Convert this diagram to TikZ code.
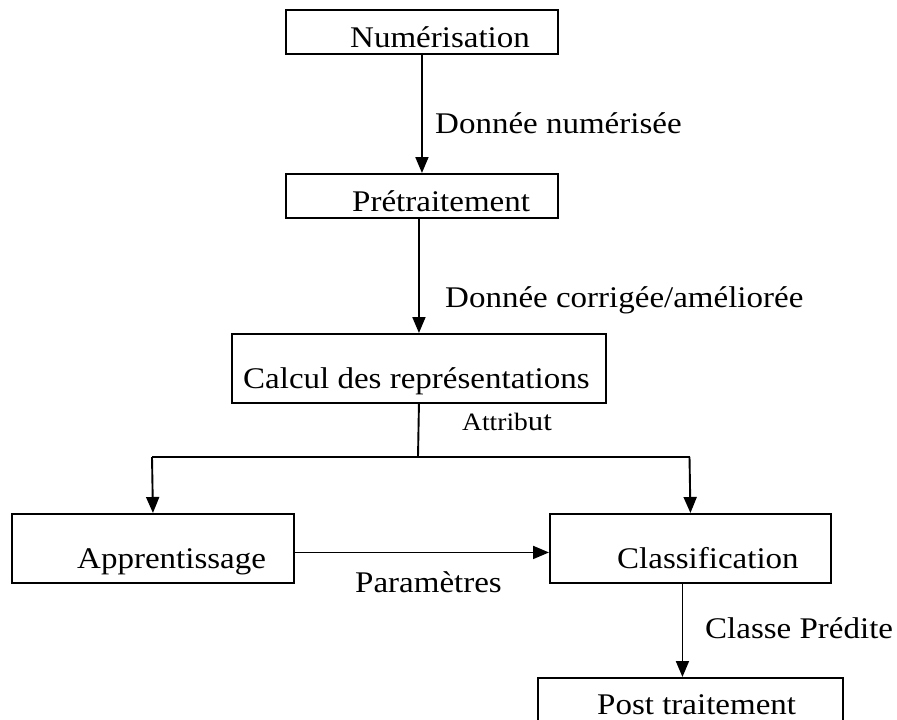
\documentclass[tikz,border=0pt]{standalone}
\usepackage{fontspec}
\setmainfont{Liberation Serif}[FakeStretch=1.1]
\usetikzlibrary{arrows.meta}
\begin{document}
\begin{tikzpicture}[x=1pt,y=-1pt,
  box/.style={draw,line width=1.9pt,inner sep=0pt,anchor=north west},
  lbl/.style={inner sep=0pt,anchor=base west,font=\fontsize{30}{36}\selectfont},
  conn/.style={line width=1.9pt},
  arr/.style={conn,-{Triangle[length=16pt,width=13pt]}}]
\clip (0,0) rectangle (897,720);
% boxes
\node[box,minimum width=272pt,minimum height=44pt] (num) at (285,9) {};
\node[box,minimum width=272pt,minimum height=44pt] (pre) at (285,173) {};
\node[box,minimum width=374pt,minimum height=69pt] (calc) at (231,333) {};
\node[box,minimum width=282pt,minimum height=69pt] (app) at (11,513) {};
\node[box,minimum width=281pt,minimum height=69pt] (cls) at (549,513) {};
\node[box,minimum width=305pt,minimum height=60pt] (post) at (537,677) {};
% box texts
\node[lbl] (tnum) at (350,47) {Numérisation};
\node[lbl] (tpre) at (352,211) {Prétraitement};
\node[lbl] (tcalc) at (243,388) {Calcul des représentations};
\node[lbl] (tapp) at (77,568) {Apprentissage};
\node[lbl] (tcls) at (617,568) {Classification};
\node[lbl] (tpost) at (597,714) {Post traitement};
% connector labels
\node[lbl] (l1) at (435,133) {Donnée numérisée};
\node[lbl] (l2) at (445,307) {Donnée corrigée/améliorée};
\node[lbl,font=\fontsize{25}{28}\selectfont] (l3) at (462,430) {Attrib{\fontsize{28}{30}\selectfont ut}};
\node[lbl] (l4) at (355,592) {Paramètres};
\node[lbl] (l5) at (705,638) {Classe Prédite};
% connectors
\draw[arr] (num.south) -- (pre.north);
\draw[arr] (pre.south -| calc.north) -- (calc.north);
\coordinate (split) at (418,457);
\coordinate (bl) at (152,457);
\coordinate (br) at (689.5,457);
\draw[conn] (calc.south) -- (split);
\draw[conn] (bl) -- (br);
\draw[arr] (bl) -- (app.north);
\draw[arr] (br) -- (cls.north);
\draw[arr] ([yshift=-4pt]app.east) -- ([yshift=-4pt]app.east -| cls.west);
\draw[arr] ([xshift=-8pt]cls.south) -- ([xshift=-8pt]cls.south |- post.north);
\end{tikzpicture}
\end{document}
